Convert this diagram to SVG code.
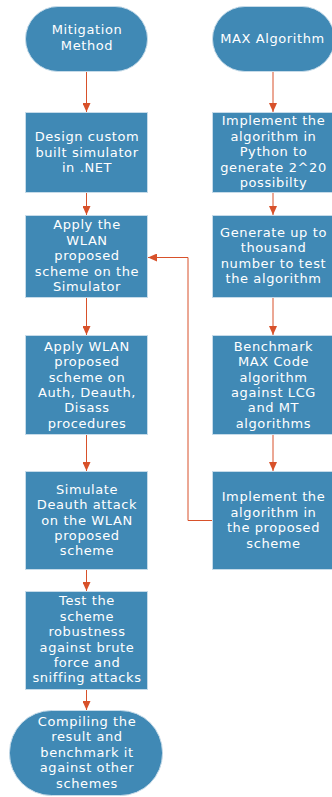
<svg xmlns="http://www.w3.org/2000/svg" width="332" height="797" viewBox="0 0 332 797">
<style>
.n{fill:#4089b5;stroke:#c6dbe9;stroke-width:1}
.t{fill:#ffffff;font-family:"DejaVu Sans","Open Sans",sans-serif;font-size:13px;letter-spacing:0.6px;text-anchor:middle}
.c{fill:none;stroke:#d8512a;stroke-width:1}
</style>
<defs>
<marker id="ah" viewBox="0 0 9 8" refX="9" refY="4" markerWidth="9" markerHeight="8" markerUnits="userSpaceOnUse" orient="auto">
<path d="M0,0 L9,4 L0,8 z" fill="#d8512a"/>
</marker>
</defs>
<rect width="332" height="797" fill="#ffffff"/>
<g id="connectors">
<path class="c" d="M86.5,72 V112" marker-end="url(#ah)"/>
<path class="c" d="M86.5,193 V215" marker-end="url(#ah)"/>
<path class="c" d="M86.5,298 V335" marker-end="url(#ah)"/>
<path class="c" d="M86.5,435 V471" marker-end="url(#ah)"/>
<path class="c" d="M86.5,570 V591" marker-end="url(#ah)"/>
<path class="c" d="M86.5,690 V710" marker-end="url(#ah)"/>
<path class="c" d="M273,72 V112" marker-end="url(#ah)"/>
<path class="c" d="M273,193 V215" marker-end="url(#ah)"/>
<path class="c" d="M273,298 V335" marker-end="url(#ah)"/>
<path class="c" d="M273,435 V471" marker-end="url(#ah)"/>
<path class="c" d="M212,520.5 H188 V257.5 H148" marker-end="url(#ah)"/>
</g>
<g id="mitigation-method">
<rect class="n" x="25.5" y="6.5" width="122" height="65" rx="32.5" ry="32.5"/>
<text class="t"><tspan x="87" y="34.3">Mitigation</tspan><tspan x="87" y="49.7">Method</tspan></text>
</g>
<g id="max-algorithm">
<rect class="n" x="212.5" y="6.5" width="122" height="65" rx="32.5" ry="32.5"/>
<text class="t"><tspan x="272.5" y="42.8">MAX Algorithm</tspan></text>
</g>
<g id="design-simulator">
<rect class="n" x="25.5" y="112.5" width="122" height="80"/>
<text class="t"><tspan x="87" y="141.1">Design custom</tspan><tspan x="87" y="156.5">built simulator</tspan><tspan x="87" y="171.9">in .NET</tspan></text>
</g>
<g id="implement-python">
<rect class="n" x="212.5" y="112.5" width="122" height="80"/>
<text class="t"><tspan x="273.5" y="125.4">Implement the</tspan><tspan x="273.5" y="140.8">algorithm in</tspan><tspan x="273.5" y="156.2">Python to</tspan><tspan x="273.5" y="171.6">generate 2^20</tspan><tspan x="273.5" y="187">possibilty</tspan></text>
</g>
<g id="apply-simulator">
<rect class="n" x="25.5" y="215.5" width="122" height="82"/>
<text class="t"><tspan x="87" y="229.4">Apply the</tspan><tspan x="87" y="244.8">WLAN</tspan><tspan x="87" y="260.2">proposed</tspan><tspan x="87" y="275.6">scheme on the</tspan><tspan x="87" y="291">Simulator</tspan></text>
</g>
<g id="generate-numbers">
<rect class="n" x="212.5" y="215.5" width="122" height="82"/>
<text class="t"><tspan x="273.5" y="237">Generate up to</tspan><tspan x="273.5" y="252.4">thousand</tspan><tspan x="273.5" y="267.8">number to test</tspan><tspan x="273.5" y="283.2">the algorithm</tspan></text>
</g>
<g id="apply-procedures">
<rect class="n" x="25.5" y="335.5" width="122" height="99"/>
<text class="t"><tspan x="87" y="350.7">Apply WLAN</tspan><tspan x="87" y="366.1">proposed</tspan><tspan x="87" y="381.5">scheme on</tspan><tspan x="87" y="396.9">Auth, Deauth,</tspan><tspan x="87" y="412.3">Disass</tspan><tspan x="87" y="427.7">procedures</tspan></text>
</g>
<g id="benchmark">
<rect class="n" x="212.5" y="335.5" width="122" height="99"/>
<text class="t"><tspan x="273.5" y="350.7">Benchmark</tspan><tspan x="273.5" y="366.1">MAX Code</tspan><tspan x="273.5" y="381.5">algorithm</tspan><tspan x="273.5" y="396.9">against LCG</tspan><tspan x="273.5" y="412.3">and MT</tspan><tspan x="273.5" y="427.7">algorithms</tspan></text>
</g>
<g id="simulate-deauth">
<rect class="n" x="25.5" y="471.5" width="122" height="98"/>
<text class="t"><tspan x="87" y="493.7">Simulate</tspan><tspan x="87" y="509.1">Deauth attack</tspan><tspan x="87" y="524.5">on the WLAN</tspan><tspan x="87" y="539.9">proposed</tspan><tspan x="87" y="555.3">scheme</tspan></text>
</g>
<g id="implement-scheme">
<rect class="n" x="212.5" y="471.5" width="122" height="98"/>
<text class="t"><tspan x="273.5" y="501.4">Implement the</tspan><tspan x="273.5" y="516.8">algorithm in</tspan><tspan x="273.5" y="532.2">the proposed</tspan><tspan x="273.5" y="547.6">scheme</tspan></text>
</g>
<g id="test-robustness">
<rect class="n" x="25.5" y="591.5" width="122" height="98"/>
<text class="t"><tspan x="87" y="605.3">Test the</tspan><tspan x="87" y="620.7">scheme</tspan><tspan x="87" y="636.1">robustness</tspan><tspan x="87" y="651.5">against brute</tspan><tspan x="87" y="666.9">force and</tspan><tspan x="87" y="682.3">sniffing attacks</tspan></text>
</g>
<g id="compiling-result">
<rect class="n" x="9.5" y="710.5" width="153" height="85" rx="42" ry="42"/>
<text class="t"><tspan x="87" y="726">Compiling the</tspan><tspan x="87" y="741.4">result and</tspan><tspan x="87" y="756.8">benchmark it</tspan><tspan x="87" y="772.2">against other</tspan><tspan x="87" y="787.6">schemes</tspan></text>
</g>
</svg>
